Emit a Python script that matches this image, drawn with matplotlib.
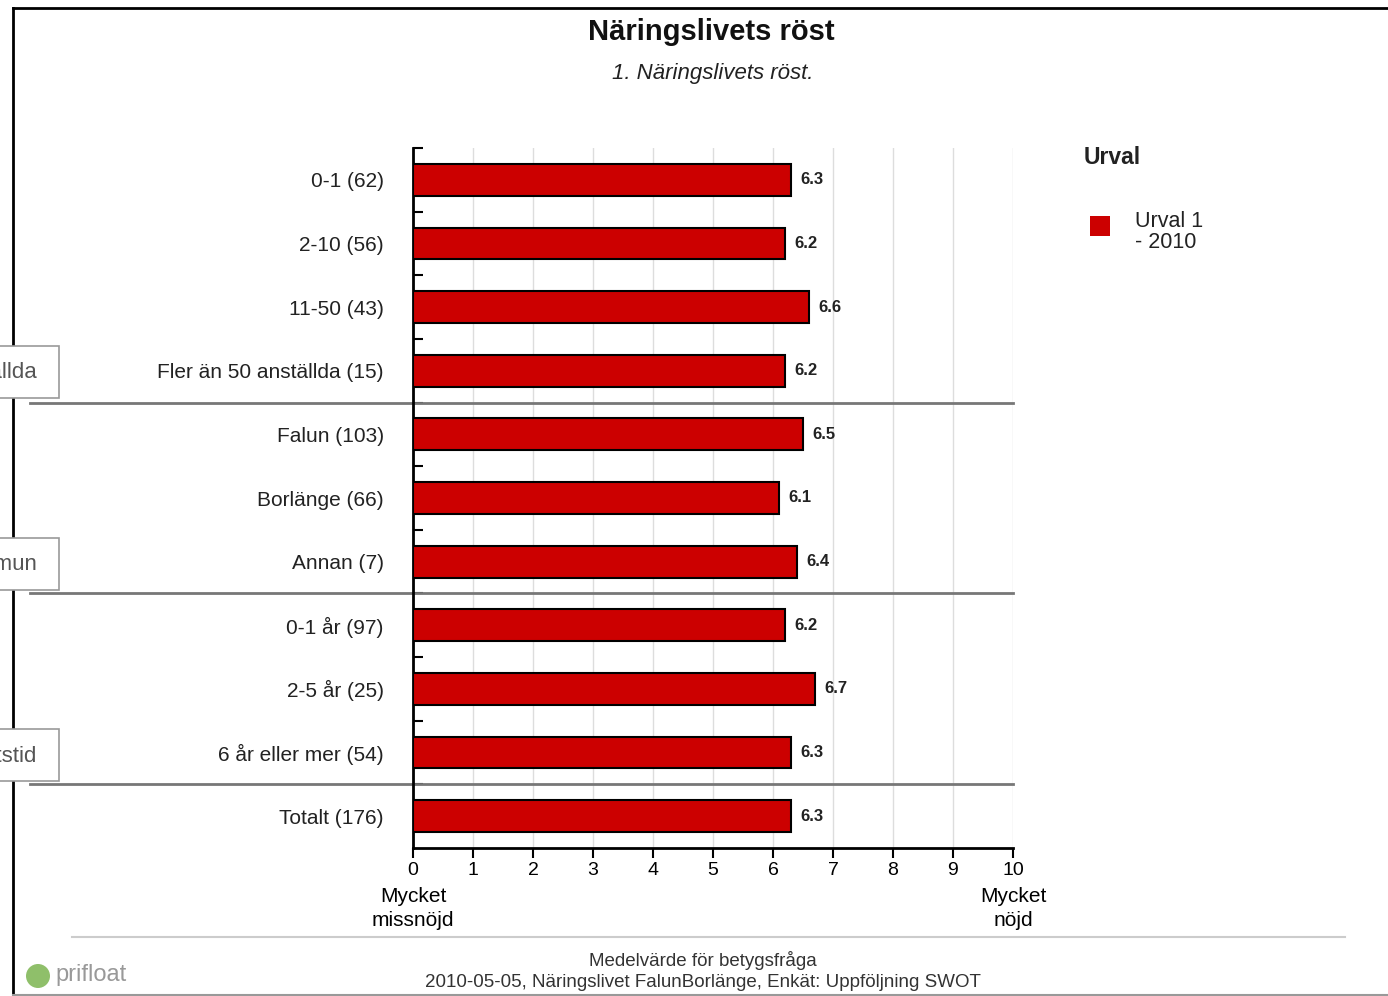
import matplotlib
matplotlib.use('Agg')
import matplotlib.pyplot as plt
from matplotlib.patches import Rectangle, Ellipse
from matplotlib.lines import Line2D
import numpy as np

plt.rcParams['font.family'] = ['Liberation Sans', 'DejaVu Sans']

# Medelvärden per grupp
categories = ['0-1 (62)', '2-10 (56)', '11-50 (43)', 'Fler än 50 anställda (15)',
              'Falun (103)', 'Borlänge (66)', 'Annan (7)',
              '0-1 år (97)', '2-5 år (25)', '6 år eller mer (54)',
              'Totalt (176)']
values = [6.3, 6.2, 6.6, 6.2, 6.5, 6.1, 6.4, 6.2, 6.7, 6.3, 6.3]
# grupprubriker och index där varje grupp slutar
group_names = ['Antal anställda', 'Kommun', 'Verksamhetstid']
group_ends = [3, 6, 9]
x_ticks = list(range(0, 11))
series_name = 'Urval 1\n- 2010'

W, H = 1388, 996
fig = plt.figure(figsize=(W / 100, H / 100), dpi=100)


def fx(x):
    return x / W


def fy(y):
    return 1 - y / H


ax = fig.add_axes([fx(413), fy(848), fx(1013) - fx(413), fy(148) - fy(848)])

pos = np.arange(len(categories))
ax.barh(pos, values, height=0.5, color='#cc0000', edgecolor='black', linewidth=1.5, zorder=3)
for p, v in zip(pos, values):
    ax.text(v + 0.15, p, f'{v:.1f}', va='center', ha='left', fontsize=12,
            fontweight='bold', color='#222222')

ax.set_xlim(0, 10)
ax.set_ylim(len(categories) - 0.5, -0.5)
ax.set_xticks(x_ticks)
ax.set_xticklabels([str(t) for t in x_ticks], fontsize=14)
ax.set_yticks(pos)
ax.set_yticklabels(categories, fontsize=15, color='#222222')
ax.tick_params(axis='y', which='major', length=0, pad=21)
ax.set_yticks(np.arange(-0.5, len(categories) - 1, 1), minor=True)
ax.tick_params(axis='y', which='minor', direction='in', length=7.5, width=1.5)
ax.tick_params(axis='x', direction='out', length=7, width=1.5, pad=3)

for x in x_ticks[1:]:
    ax.axvline(x, color='#dddddd', linewidth=1, zorder=1)

for s in ['top', 'right']:
    ax.spines[s].set_visible(False)
for s in ['left', 'bottom']:
    ax.spines[s].set_linewidth(2)
    ax.spines[s].set_color('black')

# skiljelinjer mellan grupperna
for end in group_ends:
    ax.axhline(end + 0.5, xmin=(30 - 413) / 600, xmax=1, color='#777777',
               linewidth=2, clip_on=False, zorder=2)

for x, label in [(0, 'Mycket\nmissnöjd'), (10, 'Mycket\nnöjd')]:
    ax.text(x, -0.056, label, transform=ax.get_xaxis_transform(),
            ha='center', va='top', fontsize=15, linespacing=1.35)

# gruppetiketter i vänsterkanten
box_tops = [346, 538, 729]
for name, top in zip(group_names, box_tops):
    fig.patches.append(Rectangle((fx(-200), fy(top + 52)), fx(259), 52 / H,
                                 transform=fig.transFigure, facecolor='white',
                                 edgecolor='#999999', linewidth=1.2, zorder=5))
    fig.text(fx(37), fy(top + 27), name, ha='right', va='center', fontsize=16,
             color='#555555', zorder=6)

# ram
fig.add_artist(Line2D([fx(13), fx(13)], [fy(8), fy(996)], color='black', linewidth=2))
fig.add_artist(Line2D([fx(13), 1], [fy(8), fy(8)], color='black', linewidth=2))
fig.add_artist(Line2D([fx(13), 1], [fy(995), fy(995)], color='#999999', linewidth=1.5))

fig.text(fx(711), fy(32), 'Näringslivets röst', ha='center', va='center',
         fontsize=21, fontweight='bold', color='#111111')
fig.text(fx(713), fy(74), '1. Näringslivets röst.', ha='center', va='center',
         fontsize=16, style='italic', color='#222222')

# förklaring
fig.text(fx(1084), fy(158), 'Urval', ha='left', va='center', fontsize=16.5,
         fontweight='bold', color='#222222')
fig.patches.append(Rectangle((fx(1090), fy(236)), fx(20), 20 / H,
                             transform=fig.transFigure, facecolor='#cc0000',
                             edgecolor='none'))
fig.text(fx(1135), fy(232), series_name, ha='left', va='center', fontsize=15.5,
         color='#222222', linespacing=1.05)

# sidfot
fig.add_artist(Line2D([fx(72), fx(1345)], [fy(937), fy(937)], color='#cccccc', linewidth=1.5))
fig.text(fx(703), fy(960), 'Medelvärde för betygsfråga', ha='center', va='center',
         fontsize=13.5, color='#333333')
fig.text(fx(703), fy(982), '2010-05-05, Näringslivet FalunBorlänge, Enkät: Uppföljning SWOT',
         ha='center', va='center', fontsize=13.5, color='#333333')
fig.patches.append(Ellipse((fx(38), fy(976)), 24 / W, 24 / H, transform=fig.transFigure,
                           facecolor='#8fbf6a', edgecolor='none'))
fig.text(fx(55), fy(975), 'prifloat', ha='left', va='center', fontsize=17,
         color='#999999')

fig.savefig('out.png', dpi=100)
